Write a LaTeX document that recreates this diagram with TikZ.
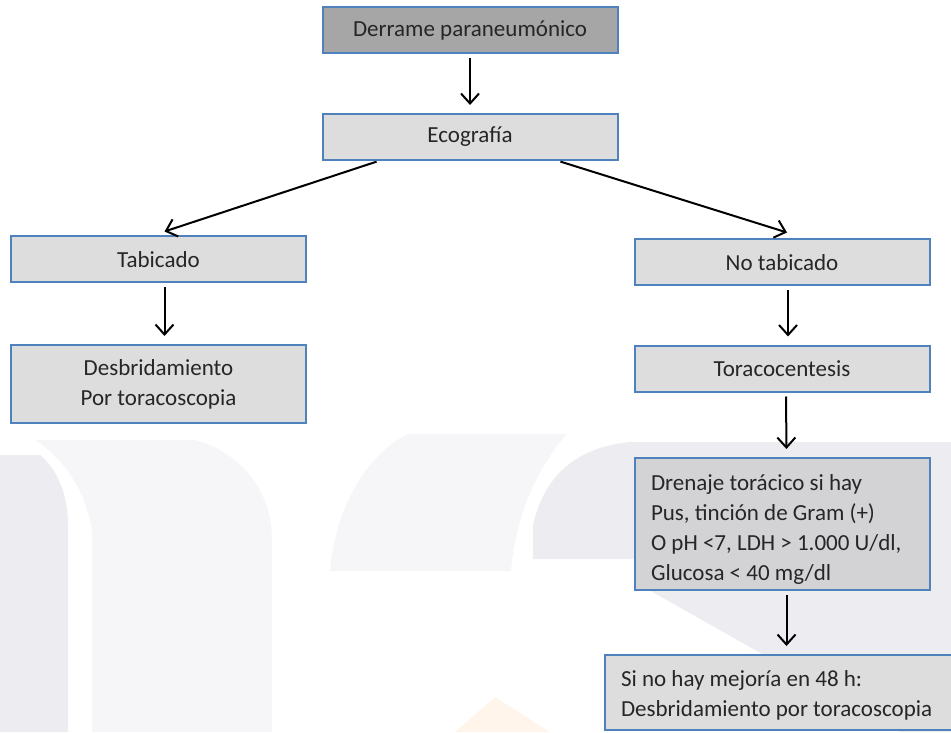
\documentclass[tikz,border=0pt]{standalone}
\usepackage{fontspec}
\setmainfont{Carlito}
\usetikzlibrary{arrows.meta}

\definecolor{boxline}{RGB}{79,129,189}
\definecolor{boxfill}{RGB}{221,221,221}
\definecolor{darkfill}{RGB}{211,211,214}
\definecolor{topfill}{RGB}{166,166,166}
\definecolor{txt}{RGB}{38,38,38}
\definecolor{markA}{RGB}{237,237,241}
\definecolor{markB}{RGB}{246,246,248}
\definecolor{markC}{RGB}{255,245,234}

\begin{document}
\begin{tikzpicture}[x=0.5pt, y=-0.5pt,
    box/.style={draw=boxline, line width=1pt, fill=boxfill, text=txt,
        minimum width=147.5pt, minimum height=23pt, inner sep=0pt,
        font=\fontsize{11.5}{15}\selectfont, align=center},
    leftbox/.style={box, align=flush left, text width=#1, inner xsep=8pt},
    flow/.style={-{Straight Barb[length=5pt,width=9pt]}, line width=1pt, black,
        shorten <=2pt, shorten >=4pt}]

    % Page frame
    \useasboundingbox (0,0) rectangle (951,732);

    % Faint watermark behind the chart
    \fill[markA] (0,455) -- (40,455) .. controls (58,470) and (68,495) .. (68,525) -- (68,732) -- (0,732) -- cycle;
    \fill[markB] (35,440) -- (195,440) .. controls (240,452) and (272,490) .. (272,540) -- (272,732) -- (92,732) -- (92,530) .. controls (85,490) and (65,460) .. (35,440) -- cycle;
    \fill[markB] (408,434) -- (567,434) .. controls (535,470) and (515,520) .. (511,571) -- (330,571) .. controls (335,510) and (365,455) .. (408,434) -- cycle;
    \fill[markA] (533,559) -- (533,525) .. controls (545,472) and (580,447) .. (630,442) -- (951,442) -- (951,732) -- (900,732) -- (640,585) -- (640,559) -- cycle;
    \fill[markC] (495,697) -- (550,732) -- (455,732) -- cycle; % orange tip

    % Boxes
    \node[box, fill=topfill] (derrame) at (470,30) {Derrame paraneumónico}; % start
    \node[box] (ecog) at (470,137) {Ecografía};
    \node[box] (tab) at (158.5,259.5) {Tabicado}; % left branch
    \node[box, minimum height=39pt] (desbrid) at (158.5,384) {Desbridamiento\\Por toracoscopia};
    \node[box] (notab) at (782,262.5) {No tabicado}; % right branch
    \node[box] (toraco) at (782,368.5) {Toracocentesis};
    \node[leftbox=131.5pt, fill=darkfill, minimum height=66pt] (drenaje) at (782.5,524)
        {\rule{0pt}{13pt}Drenaje torácico si hay\\Pus, tinción de Gram (+)\\O pH <7, LDH > 1.000 U/dl,\\Glucosa < 40 mg/dl};
    \node[leftbox=164pt, minimum width=180pt, minimum height=37.5pt] (mejoria) at (785,692.5)
        {\rule{0pt}{11pt}Si no hay mejoría en 48 h:\\Desbridamiento por toracoscopia}; % cut by the page edge

    % Arrows
    \draw[flow] (derrame) -- (ecog);
    \draw[flow, shorten <=1pt, shorten >=0pt] ([xshift=28.5pt]ecog.south west) -- ([xshift=3pt,yshift=2pt]tab.north);
    \draw[flow, shorten <=1pt, shorten >=0pt] ([xshift=-30pt]ecog.south east) -- ([xshift=2.5pt,yshift=3pt]notab.north);
    \draw[flow] ([xshift=3pt]tab.south) -- ([xshift=3pt]desbrid.north);
    \draw[flow] ([xshift=3pt]notab.south) -- ([xshift=3pt]toraco.north);
    \draw[flow] ([xshift=2pt]toraco.south) -- ([xshift=2pt]drenaje.north);
    \draw[flow] ([xshift=2pt]drenaje.south) -- ([xshift=2pt]drenaje.south |- mejoria.north);

\end{tikzpicture}
\end{document}
